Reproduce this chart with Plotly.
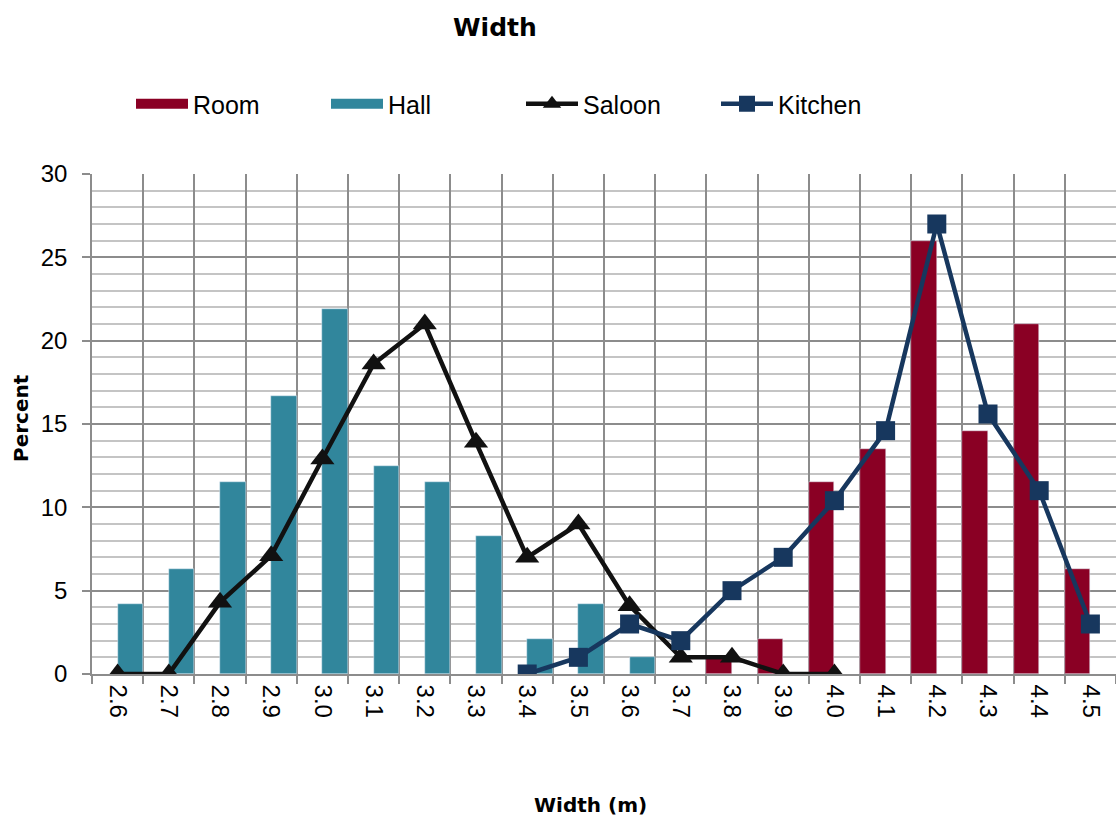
import plotly.graph_objects as go

# Width classes (m)
widths = ["2.6", "2.7", "2.8", "2.9", "3.0", "3.1", "3.2", "3.3", "3.4", "3.5",
          "3.6", "3.7", "3.8", "3.9", "4.0", "4.1", "4.2", "4.3", "4.4", "4.5"]

# Percent of each room type falling in each width class
room = [None, None, None, None, None, None, None, None, None, None,
        None, None, 1.0, 2.1, 11.5, 13.5, 26.0, 14.6, 21.0, 6.3]
hall = [4.2, 6.3, 11.5, 16.7, 21.9, 12.5, 11.5, 8.3, 2.1, 4.2,
        1.0, None, None, None, None, None, None, None, None, None]
saloon = [0, 0, 4.3, 7.1, 12.9, 18.6, 21.0, 13.9, 7.0, 9.0,
          4.1, 1.0, 1.0, 0, 0, None, None, None, None, None]
kitchen = [None, None, None, None, None, None, None, None, 0, 1.0,
           3.0, 2.0, 5.0, 7.0, 10.4, 14.6, 27.0, 15.6, 11.0, 3.0]

FONT = "Liberation Sans, Arial, sans-serif"
BOLD = "DejaVu Sans, Verdana, sans-serif"
ROOM_C, HALL_C = "#8a0024", "#31869c"
SALOON_C, KITCHEN_C = "#111111", "#17375e"

# plot area in pixels
L, R, T, B = 92, 1116, 174, 674


def px_x(px):
    return (px - L) / (R - L)


def px_y(py):
    return (B - py) / (B - T)


fig = go.Figure()
fig.add_trace(go.Bar(name="Room", x=widths, y=room, marker_color=ROOM_C,
                     legendgroup="room", showlegend=False))
fig.add_trace(go.Bar(name="Hall", x=widths, y=hall, marker_color=HALL_C,
                     legendgroup="hall", showlegend=False))
# wide swatches for the bar series in the legend
fig.add_trace(go.Scatter(name="Room", x=[None], y=[None], mode="lines",
                         line=dict(color=ROOM_C, width=14), legendgroup="room"))
fig.add_trace(go.Scatter(name="Hall", x=[None], y=[None], mode="lines",
                         line=dict(color=HALL_C, width=14), legendgroup="hall"))
fig.add_trace(go.Scatter(name="Saloon", x=widths, y=saloon, mode="lines+markers",
                         line=dict(color=SALOON_C, width=4.5),
                         marker=dict(symbol="triangle-up", size=21, color=SALOON_C)))
fig.add_trace(go.Scatter(name="Kitchen", x=widths, y=kitchen, mode="lines+markers",
                         line=dict(color=KITCHEN_C, width=4.5),
                         marker=dict(symbol="square", size=19, color=KITCHEN_C)))

fig.update_layout(
    width=1116, height=822,
    margin=dict(l=L, r=1116 - R, t=T, b=822 - B),
    paper_bgcolor="white", plot_bgcolor="white",
    font=dict(family=FONT, size=24, color="black"),
    barmode="group", bargap=0, bargroupgap=0,
    showlegend=True,
    legend=dict(orientation="h", xref="container", yref="container",
                x=131 / 1116, y=1 - 104 / 822, xanchor="left", yanchor="middle",
                entrywidth=128, itemwidth=52,
                font=dict(size=25, family=FONT)),
)
fig.add_annotation(text="<b>Width</b>", xref="paper", yref="paper",
                   x=px_x(495), y=px_y(28), showarrow=False,
                   font=dict(size=25, family=BOLD), xanchor="center", yanchor="middle")
fig.add_annotation(text="<b>Width (m)</b>", xref="paper", yref="paper",
                   x=px_x(590), y=px_y(805), showarrow=False,
                   font=dict(size=20, family=BOLD), xanchor="center", yanchor="middle")
fig.add_annotation(text="<b>Percent</b>", xref="paper", yref="paper",
                   x=px_x(21), y=px_y(418), showarrow=False, textangle=-90,
                   font=dict(size=20, family=BOLD), xanchor="center", yanchor="middle")

fig.update_xaxes(type="category", tickson="boundaries", tickangle=90,
                 showgrid=True, gridcolor="#8c8c8c", gridwidth=1.5,
                 showline=True, linecolor="#8c8c8c", linewidth=1.5,
                 ticks="outside", ticklen=8, tickcolor="#8c8c8c", tickwidth=1.5,
                 tickfont=dict(size=24), ticklabelstandoff=4, range=[-0.5, 19.5])
fig.update_yaxes(range=[0, 30], dtick=5, tick0=0,
                 showgrid=True, gridcolor="#8c8c8c", gridwidth=1.5,
                 minor=dict(dtick=1, showgrid=True, gridcolor="#c4c4c4", gridwidth=1.5),
                 showline=True, linecolor="#8c8c8c", linewidth=1.5,
                 ticks="outside", ticklen=8, tickcolor="#8c8c8c", tickwidth=1.5,
                 tickfont=dict(size=24), ticklabelstandoff=10, zeroline=False)

fig.write_html("out.html")
